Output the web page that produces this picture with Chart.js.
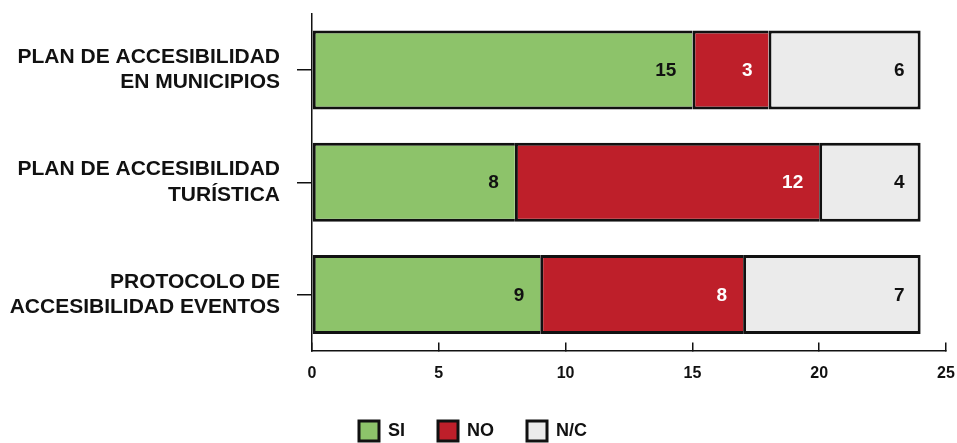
<!DOCTYPE html>
<html>
<head>
<meta charset="utf-8">
<script src="https://cdn.jsdelivr.net/npm/chart.js@4"></script>
<style>
    html, body { margin: 0; padding: 0; background: #fff; }
</style>
</head>
<body>
<canvas id="chart" width="957" height="443"></canvas>
<script>
// Chart data
var categories = [
    ["PLAN DE ACCESIBILIDAD", "EN MUNICIPIOS"],
    ["PLAN DE ACCESIBILIDAD", "TURÍSTICA"],
    ["PROTOCOLO DE", "ACCESIBILIDAD EVENTOS"]
];
var seriesNames = ["SI", "NO", "N/C"];
var siValues = [15, 8, 9];
var noValues = [3, 12, 8];
var ncValues = [6, 4, 7];
var xMin = 0, xMax = 25, xStep = 5;

var FONT = '"Liberation Sans", Arial, sans-serif';

// Draw the value inside each bar, right aligned near its end
var barLabels = {
    id: 'barLabels',
    afterDatasetsDraw: function(chart) {
        var ctx = chart.ctx;
        ctx.save();
        ctx.font = 'bold 19px ' + FONT;
        ctx.textAlign = 'right';
        ctx.textBaseline = 'middle';
        chart.data.datasets.forEach(function(ds, i) {
            chart.getDatasetMeta(i).data.forEach(function(bar, j) {
                ctx.fillStyle = ds.labelColor;
                ctx.fillText(ds.data[j], bar.x - 16, bar.y + 1);
            });
        });
        ctx.restore();
    }
};

function makeDataset(label, values, color, textColor, last) {
    return {
        label: label,
        data: values,
        backgroundColor: color,
        borderColor: '#111',
        borderWidth: { top: 3, bottom: 3, left: 3, right: last ? 3 : 0 },
        borderSkipped: false,
        barPercentage: 0.705,
        categoryPercentage: 1,
        labelColor: textColor
    };
}

var ctx = document.getElementById('chart').getContext('2d');
var chart = new Chart(ctx, {
    type: 'bar',
    data: {
        labels: categories,
        datasets: [
            makeDataset(seriesNames[0], siValues, '#8DC36A', '#111', false),
            makeDataset(seriesNames[1], noValues, '#BE1F2A', '#fff', false),
            makeDataset(seriesNames[2], ncValues, '#EBEBEB', '#111', true)
        ]
    },
    options: {
        indexAxis: 'y',
        responsive: false,
        animation: false,
        layout: {
            padding: { top: 14, right: 11, left: 0, bottom: -8 }
        },
        scales: {
            x: {
                stacked: true,
                min: xMin,
                max: xMax,
                ticks: {
                    stepSize: xStep,
                    color: '#111',
                    padding: 21,
                    font: { family: FONT, size: 16, weight: 'bold' }
                },
                grid: {
                    drawOnChartArea: false,
                    drawTicks: true,
                    tickLength: -8,
                    color: '#111',
                    lineWidth: 1.5
                },
                border: { color: '#111', width: 1.5 },
                afterFit: function(scale) {
                    scale.height = 37.5;
                    scale.paddingLeft = 0;
                    scale.paddingRight = 0;
                }
            },
            y: {
                stacked: true,
                ticks: {
                    color: '#111',
                    padding: 17,
                    font: { family: FONT, size: 21, weight: 'bold', lineHeight: 1.2 }
                },
                grid: {
                    offset: false,
                    drawOnChartArea: false,
                    drawTicks: true,
                    tickLength: 15,
                    color: '#111',
                    lineWidth: 1.5
                },
                border: { color: '#111', width: 1.5 },
                afterFit: function(scale) {
                    scale.width = 312;
                    scale.paddingTop = 0;
                    scale.paddingBottom = 0;
                }
            }
        },
        plugins: {
            tooltip: { enabled: false },
            legend: {
                position: 'bottom',
                labels: {
                    boxWidth: 20,
                    boxHeight: 20,
                    padding: 33,
                    color: '#111',
                    font: { family: FONT, size: 18, weight: 'bold' },
                    generateLabels: function(chart) {
                        return Chart.defaults.plugins.legend.labels.generateLabels(chart).map(function(item) {
                            item.lineWidth = 3;
                            item.strokeStyle = '#111';
                            return item;
                        });
                    }
                }
            }
        }
    },
    plugins: [barLabels]
});
</script>
</body>
</html>
